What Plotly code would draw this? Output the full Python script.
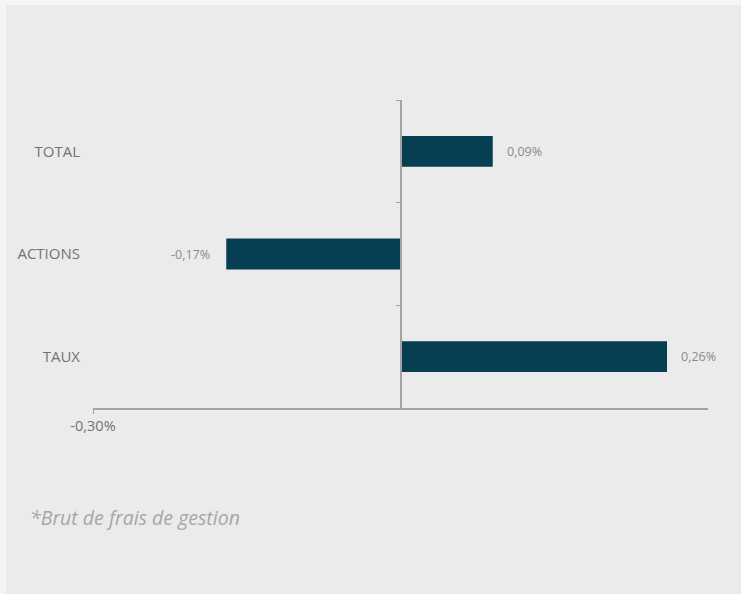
import plotly.graph_objects as go

categories = ["TOTAL", "ACTIONS", "TAUX"]
values = [0.09, -0.17, 0.26]
value_labels = ["0,09%", "-0,17%", "0,26%"]
x_tickvals = [-0.30]
x_ticktext = ["-0,30%"]
footnote = "*Brut de frais de gestion"

W, H = 741, 594
L, R, T, B = 93, 33, 100, 186
pw, ph = W - L - R, H - T - B

bar_color = "#073f52"
axis_color = "#a3a3a3"
label_color = "#737373"

fig = go.Figure()
fig.add_trace(go.Bar(
    x=values, y=categories, orientation="h",
    marker=dict(color=bar_color, line=dict(width=0)),
    width=0.3, hoverinfo="skip", showlegend=False,
))
# invisible trace carrying the central category axis (tick marks at boundaries)
fig.add_trace(go.Scatter(
    x=[0] * len(categories), y=categories, yaxis="y2", mode="markers",
    marker=dict(opacity=0), hoverinfo="skip", showlegend=False,
))

for c, v, t in zip(categories, values, value_labels):
    fig.add_annotation(
        x=v, y=c, text=t, showarrow=False,
        xanchor="left" if v >= 0 else "right",
        xshift=12 if v >= 0 else -14,
        font=dict(family="Open Sans", size=12.5, color="#8a8a8a"),
    )

fig.add_annotation(
    xref="paper", yref="paper", x=(28 - L) / pw, y=(H - B - 517) / ph,
    xanchor="left", yanchor="middle", showarrow=False,
    text=footnote,
    font=dict(family="Open Sans", size=19.5, color="#a6a6a6", style="italic"),
)

# lighter outer frame on top/left edges, inner grey panel
fig.add_shape(
    type="rect", xref="paper", yref="paper", layer="below",
    x0=(6 - L) / pw, x1=(W + 5 - L) / pw,
    y0=(H - B - (H + 5)) / ph, y1=(H - B - 5) / ph,
    fillcolor="#ebebeb", line=dict(width=0),
)

fig.update_layout(
    width=W, height=H,
    margin=dict(l=L, r=R, t=T, b=B, pad=0),
    paper_bgcolor="#f5f5f5",
    plot_bgcolor="#ebebeb",
    font=dict(family="Open Sans", color=label_color),
    xaxis=dict(
        range=[-0.30, 0.30], showgrid=False, zeroline=False,
        showline=True, linecolor=axis_color, linewidth=1.5,
        tickvals=x_tickvals, ticktext=x_ticktext,
        ticks="outside", ticklen=4, tickcolor=axis_color,
        tickfont=dict(size=14.5, color=label_color),
    ),
    yaxis=dict(
        categoryorder="array", categoryarray=categories, autorange="reversed",
        showgrid=False, zeroline=False, showline=False,
        ticks="outside", ticklen=9, tickcolor="rgba(0,0,0,0)",
        tickfont=dict(size=15, color=label_color),
    ),
    yaxis2=dict(
        overlaying="y", matches="y", anchor="free", position=0.5,
        categoryorder="array", categoryarray=categories, autorange="reversed",
        showgrid=False, zeroline=False, showticklabels=False,
        showline=True, linecolor=axis_color, linewidth=1.5,
        ticks="outside", ticklen=4, tickcolor=axis_color, tickson="boundaries",
    ),
)

fig.write_html(
    "out.html",
    config={"displayModeBar": False},
    post_script="document.body.style.margin='0';document.body.style.overflow='hidden';",
)
